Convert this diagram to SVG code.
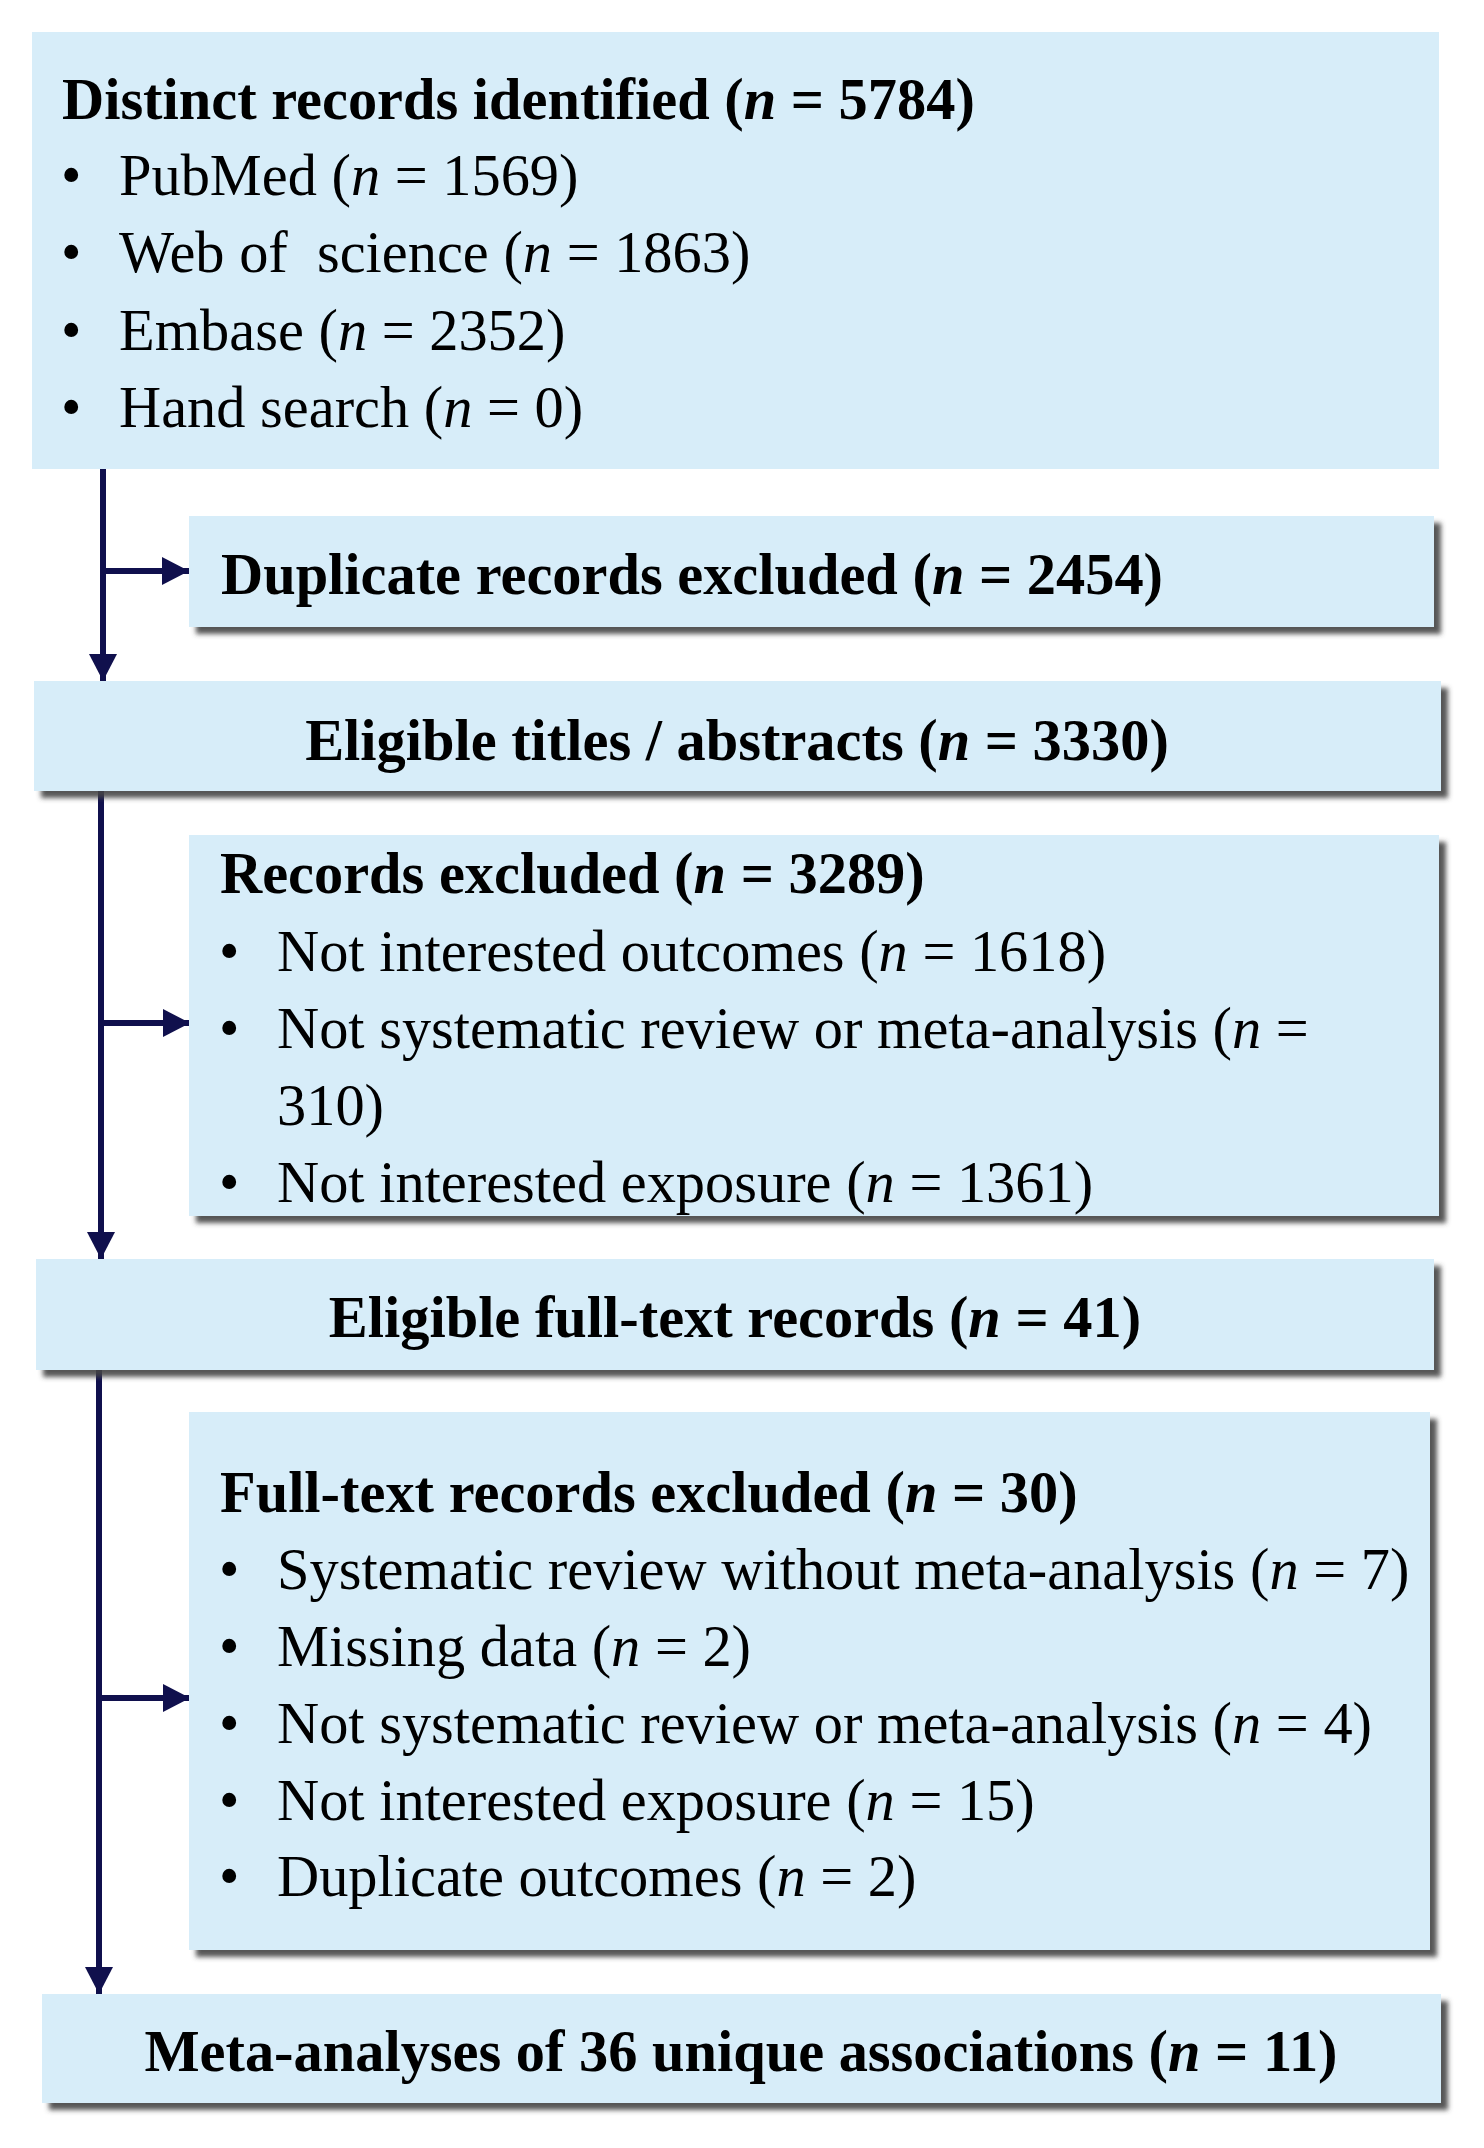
<svg xmlns="http://www.w3.org/2000/svg" width="1484" height="2148" viewBox="0 0 1484 2148">
<style>
.box{fill:#D7EDF9}
.t{font-family:"Liberation Serif","Times New Roman",serif;font-size:58.4px;fill:#000}
.b{font-weight:bold}
.i{font-style:italic}
.c{text-anchor:middle}
.ln{stroke:#10104d;stroke-width:6;fill:none}
</style>
<defs>
<filter id="sh" x="-5%" y="-20%" width="115%" height="150%">
<feGaussianBlur in="SourceAlpha" stdDeviation="2.5"/>
<feOffset dx="7" dy="7" result="o"/>
<feFlood flood-color="#444444" flood-opacity="0.9"/>
<feComposite in2="o" operator="in"/>
<feMerge><feMergeNode/><feMergeNode in="SourceGraphic"/></feMerge>
</filter>
<marker id="ah" viewBox="0 0 27 28" refX="27" refY="14" markerWidth="27" markerHeight="28" markerUnits="userSpaceOnUse" orient="auto">
<path d="M0,0 L27,14 L0,28 Z" fill="#10104d"/>
</marker>
</defs>

<g id="connectors">
<line class="ln" x1="103" y1="469" x2="103" y2="681" marker-end="url(#ah)"/>
<line class="ln" x1="103" y1="571" x2="189" y2="571" marker-end="url(#ah)"/>
<line class="ln" x1="101" y1="791" x2="101" y2="1259" marker-end="url(#ah)"/>
<line class="ln" x1="101" y1="1023" x2="190" y2="1023" marker-end="url(#ah)"/>
<line class="ln" x1="99" y1="1370" x2="99" y2="1994" marker-end="url(#ah)"/>
<line class="ln" x1="99" y1="1698" x2="190" y2="1698" marker-end="url(#ah)"/>
</g>

<g id="identified">
<rect class="box" x="32" y="32" width="1407" height="437"/>
<text class="t b" x="62" y="119">Distinct records identified (<tspan class="i">n</tspan> = 5784)</text>
<text class="t" x="61" y="195">•</text>
<text class="t" x="119" y="195">PubMed (<tspan class="i">n</tspan> = 1569)</text>
<text class="t" x="61" y="272">•</text>
<text class="t" x="119" y="272" xml:space="preserve">Web of  science (<tspan class="i">n</tspan> = 1863)</text>
<text class="t" x="61" y="350">•</text>
<text class="t" x="119" y="350">Embase (<tspan class="i">n</tspan> = 2352)</text>
<text class="t" x="61" y="427">•</text>
<text class="t" x="119" y="427">Hand search (<tspan class="i">n</tspan> = 0)</text>
</g>

<g id="duplicates">
<rect class="box" x="189" y="516" width="1245" height="111" filter="url(#sh)"/>
<text class="t b" x="221" y="594">Duplicate records excluded (<tspan class="i">n</tspan> = 2454)</text>
</g>

<g id="titles">
<rect class="box" x="34" y="681" width="1407" height="110" filter="url(#sh)"/>
<text class="t b c" x="737" y="760">Eligible titles / abstracts (<tspan class="i">n</tspan> = 3330)</text>
</g>

<g id="records-excluded">
<rect class="box" x="189" y="835" width="1250" height="381" filter="url(#sh)"/>
<text class="t b" x="220" y="893">Records excluded (<tspan class="i">n</tspan> = 3289)</text>
<text class="t" x="219" y="971">•</text>
<text class="t" x="277" y="971">Not interested outcomes (<tspan class="i">n</tspan> = 1618)</text>
<text class="t" x="219" y="1048">•</text>
<text class="t" x="277" y="1048">Not systematic review or meta-analysis (<tspan class="i">n</tspan> =</text>
<text class="t" x="277" y="1125">310)</text>
<text class="t" x="219" y="1202">•</text>
<text class="t" x="277" y="1202">Not interested exposure (<tspan class="i">n</tspan> = 1361)</text>
</g>

<g id="fulltext">
<rect class="box" x="36" y="1259" width="1398" height="111" filter="url(#sh)"/>
<text class="t b c" x="735" y="1337">Eligible full-text records (<tspan class="i">n</tspan> = 41)</text>
</g>

<g id="fulltext-excluded">
<rect class="box" x="189" y="1412" width="1241" height="538" filter="url(#sh)"/>
<text class="t b" x="220" y="1512">Full-text records excluded (<tspan class="i">n</tspan> = 30)</text>
<text class="t" x="219" y="1589">•</text>
<text class="t" x="277" y="1589">Systematic review without meta-analysis (<tspan class="i">n</tspan> = 7)</text>
<text class="t" x="219" y="1666">•</text>
<text class="t" x="277" y="1666">Missing data (<tspan class="i">n</tspan> = 2)</text>
<text class="t" x="219" y="1743">•</text>
<text class="t" x="277" y="1743">Not systematic review or meta-analysis (<tspan class="i">n</tspan> = 4)</text>
<text class="t" x="219" y="1820">•</text>
<text class="t" x="277" y="1820">Not interested exposure (<tspan class="i">n</tspan> = 15)</text>
<text class="t" x="219" y="1896">•</text>
<text class="t" x="277" y="1896">Duplicate outcomes (<tspan class="i">n</tspan> = 2)</text>
</g>

<g id="meta">
<rect class="box" x="42" y="1994" width="1399" height="109" filter="url(#sh)"/>
<text class="t b c" x="741" y="2071">Meta-analyses of 36 unique associations (<tspan class="i">n</tspan> = 11)</text>
</g>
</svg>
